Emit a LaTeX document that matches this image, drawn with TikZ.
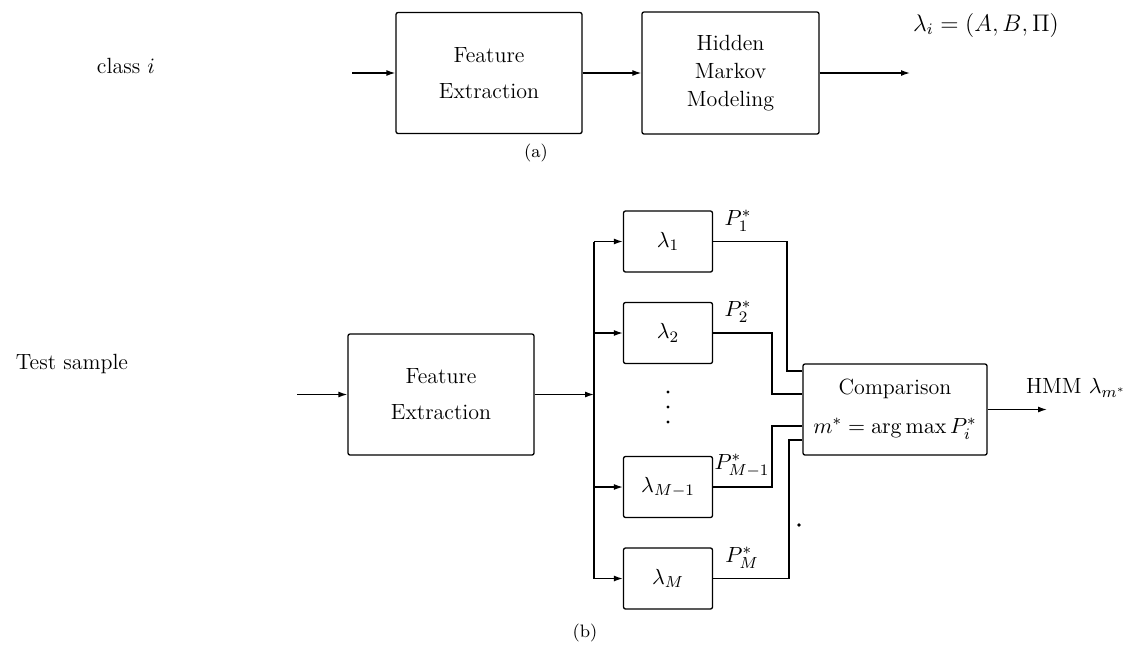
\documentclass[tikz,border=0pt]{standalone}
\usetikzlibrary{arrows.meta}
\begin{document}
\begin{tikzpicture}[x=0.5pt,y=-0.5pt,line width=0.65pt,
  block/.style={draw,rounded corners=1pt,inner sep=0pt,align=center,
    font=\fontsize{11}{18}\selectfont},
  lam/.style={block,minimum width=44.5pt,minimum height=30.5pt},
  arr/.style={-{Latex[length=4.5pt,width=3pt]}},
  lbl/.style={inner sep=0pt,font=\fontsize{11}{14}\selectfont}]
\useasboundingbox (0,0) rectangle (1136,645);

% ---------- (a) training of one class model ----------
\node[lbl] (cls) at (126,66) {class $i$};
\coordinate (inA) at (352,73);
\node[block,minimum width=93pt,minimum height=60.5pt] (feA) at (489,73)
  {Feature\\Extraction};
\node[block,minimum width=88.5pt,minimum height=61pt,
  font=\fontsize{11}{14}\selectfont] (hmm) at (730.5,73)
  {Hidden\\Markov\\Modeling};
\coordinate (outA) at (910,73);
\node[lbl,font=\fontsize{12}{14}\selectfont] (model) at (986,25)
  {$\lambda_i = (A, B, \Pi)$};
\node[lbl,font=\fontsize{9}{11}\selectfont] (capA) at (536,153) {(a)};

\draw[arr] (inA) -- (feA.west);
\draw[arr] (feA.east) -- (hmm.west);
\draw[arr] (hmm.east) -- (outA);

% ---------- (b) recognition of a test sample ----------
\node[lbl] (test) at (72,364) {Test sample};
\coordinate (inB) at (297,394.5);
\node[block,minimum width=93pt,minimum height=60.5pt] (feB) at (441,394.5)
  {Feature\\Extraction};
\coordinate (bus) at (594,394.5);

\node[lam] (l1)  at (668,241.5) {$\lambda_1$};
\node[lam] (l2)  at (668,333)   {$\lambda_2$};
\node[lam] (lM1) at (668,487)   {$\lambda_{M-1}$};
\node[lam] (lM)  at (668,578.5) {$\lambda_M$};
% vertical ellipsis between the models
\foreach \y in {392,407,422} \fill (668,\y) circle (0.8pt);

\node[block,minimum width=92pt,minimum height=45.5pt,
  font=\fontsize{11}{19.5}\selectfont] (cmp) at (895,409.5)
  {Comparison\\$m^* = \arg\max P_i^*$};
\coordinate (outB) at (1047,409.5);
\node[lbl] (res) at (1076,388) {HMM $\lambda_{m^*}$};

\node[lbl] (p1)  at (738,221) {$P_1^*$};
\node[lbl] (p2)  at (738,312) {$P_2^*$};
\node[lbl] (pM1) at (742,466) {$P_{M-1}^*$};
\node[lbl] (pM)  at (742,558) {$P_M^*$};

\node[lbl,font=\fontsize{9}{11}\selectfont] (capB) at (585,633) {(b)};
\fill (799,525) circle (0.9pt);

% input, feature extraction and distribution bus
\draw[arr] (inB) -- (feB.west);
\draw[arr] (feB.east) -- (bus);
\draw (bus |- l1.west) -- (bus |- lM.west);
\foreach \m in {l1,l2,lM1,lM}
  \draw[arr] (bus |- \m.west) -- (\m.west);

% model scores into the comparison block
\draw (l1.east)  -| (787,371) -- (cmp.west |- 0,371);
\draw (l2.east)  -| (772,394) -- (cmp.west |- 0,394);
\draw (lM1.east) -| (772,426) -- (cmp.west |- 0,426);
\draw (lM.east)  -| (789,440) -- (cmp.west |- 0,440);

\draw[arr] (cmp.east) -- (outB);
\end{tikzpicture}
\end{document}
